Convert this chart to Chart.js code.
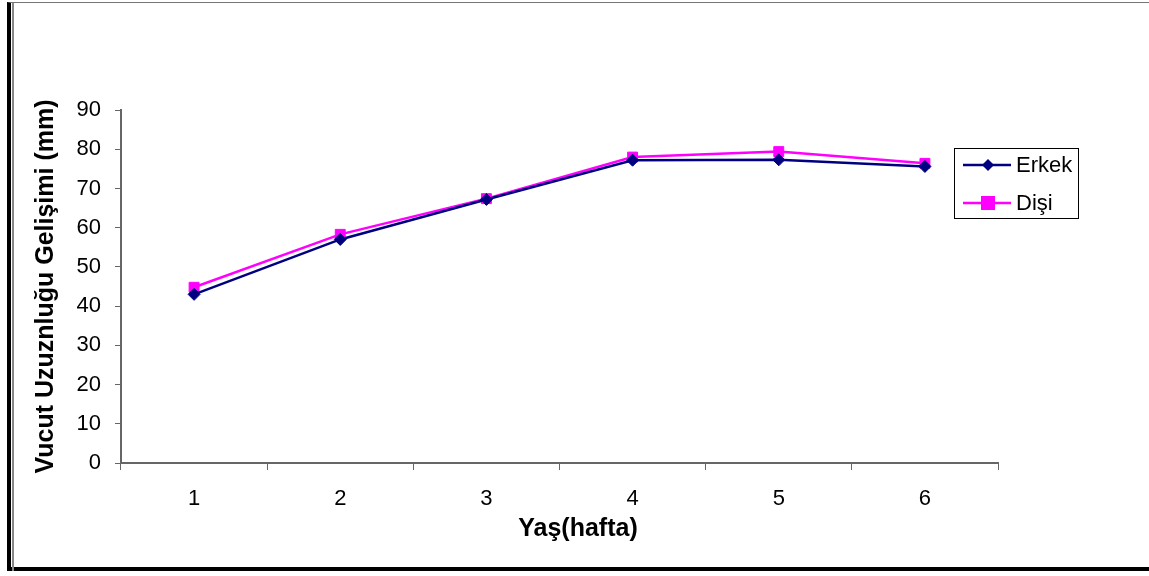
<!DOCTYPE html>
<html>
<head>
<meta charset="utf-8">
<script src="https://cdn.jsdelivr.net/npm/chart.js@4"></script>
<style>
  html, body { margin: 0; padding: 0; background: #fff; }
  #wrap { position: relative; width: 1149px; height: 576px; overflow: hidden; }
  #frame {
    position: absolute; left: 7px; top: 2px; width: 1150px; height: 569px;
    border-left: 4px solid #000; border-top: 1px solid #777; border-bottom: 4px solid #000;
    box-sizing: border-box; pointer-events: none;
  }
  #inner { position: absolute; left: 12px; top: 3px; width: 2px; height: 568px; background: #888; }
  canvas { position: absolute; left: 0; top: 0; }
</style>
</head>
<body>
<div id="wrap">
  <canvas id="chart" width="1149" height="576"></canvas>
  <div id="frame"></div>
  <div id="inner"></div>
</div>
<script>
// Data
const weeks = ['1', '2', '3', '4', '5', '6'];
const erkek = [43, 57, 67.2, 77.2, 77.3, 75.6];
const disi = [44.8, 58.3, 67.4, 78, 79.4, 76.4];
const yTicks = [0, 10, 20, 30, 40, 50, 60, 70, 80, 90];
const xTitle = 'Yaş(hafta)';

const FONT = 'Liberation Sans, Arial, sans-serif';

// Boxed legend drawn by hand, like the Excel one
const boxLegend = {
  id: 'boxLegend',
  afterDraw(chart) {
    const ctx = chart.ctx;
    ctx.save();
    ctx.strokeStyle = '#000';
    ctx.lineWidth = 1;
    ctx.strokeRect(954.5, 148.5, 124, 70);
    const rows = [165, 203];
    chart.data.datasets.forEach((ds, i) => {
      const y = rows[i];
      ctx.strokeStyle = ds.borderColor;
      ctx.lineWidth = 2.5;
      ctx.beginPath();
      ctx.moveTo(963, y);
      ctx.lineTo(1011, y);
      ctx.stroke();
      ctx.fillStyle = ds.pointBackgroundColor;
      ctx.beginPath();
      if (ds.pointStyle === 'rectRot') {
        ctx.moveTo(988, y - 6); ctx.lineTo(994, y); ctx.lineTo(988, y + 6); ctx.lineTo(982, y);
      } else {
        ctx.rect(981, y - 7, 14, 14);
      }
      ctx.closePath();
      ctx.fill();
      ctx.fillStyle = '#000';
      ctx.font = '22px ' + FONT;
      ctx.textBaseline = 'middle';
      ctx.fillText(ds.label, 1016, y + 1);
    });

    // x axis title, sits a bit right of the plot centre in the original
    ctx.fillStyle = '#000';
    ctx.font = 'bold 25px ' + FONT;
    ctx.textAlign = 'center';
    ctx.textBaseline = 'middle';
    ctx.fillText(xTitle, 578, 529);
    ctx.restore();
  }
};

new Chart(document.getElementById('chart').getContext('2d'), {
  type: 'line',
  data: {
    labels: weeks,
    datasets: [
      {
        label: 'Erkek',
        data: erkek,
        borderColor: '#000080',
        backgroundColor: '#000080',
        pointBackgroundColor: '#000080',
        pointBorderColor: '#000080',
        pointStyle: 'rectRot',
        pointRadius: 6,
        pointBorderWidth: 1,
        borderWidth: 2.5,
        tension: 0
      },
      {
        label: 'Dişi',
        data: disi,
        borderColor: '#FF00FF',
        backgroundColor: '#FF00FF',
        pointBackgroundColor: '#FF00FF',
        pointBorderColor: '#FF00FF',
        pointStyle: 'rect',
        pointRadius: 7,
        pointBorderWidth: 1,
        borderWidth: 2.5,
        tension: 0
      }
    ]
  },
  options: {
    responsive: false,
    animation: false,
    layout: { padding: { left: 22, right: 151, top: 110, bottom: 31 } },
    plugins: {
      legend: { display: false },
      tooltip: { enabled: false }
    },
    scales: {
      x: {
        offset: true,
        afterFit: scale => { scale.height = 82; },
        grid: {
          offset: true,
          drawOnChartArea: false,
          drawTicks: true,
          tickLength: 7,
          color: '#666',
          tickColor: '#666'
        },
        border: { color: '#666', width: 2 },
        ticks: { color: '#000', font: { family: FONT, size: 22 }, padding: 16 },
        title: { display: false }
      },
      y: {
        min: 0,
        max: 90,
        afterFit: scale => { scale.width = 99; },
        afterBuildTicks: scale => { scale.ticks = yTicks.map(v => ({ value: v })); },
        grid: {
          drawOnChartArea: false,
          drawTicks: true,
          tickLength: 6,
          color: '#666',
          tickColor: '#666'
        },
        border: { color: '#666', width: 2 },
        ticks: { color: '#000', font: { family: FONT, size: 22 }, padding: 14 },
        title: {
          display: true,
          text: 'Vucut Uzuznluğu Gelişimi (mm)',
          color: '#000',
          font: { family: FONT, size: 25, weight: 'bold' },
          padding: { top: 9, bottom: 0 }
        }
      }
    }
  },
  plugins: [boxLegend]
});
</script>
</body>
</html>
